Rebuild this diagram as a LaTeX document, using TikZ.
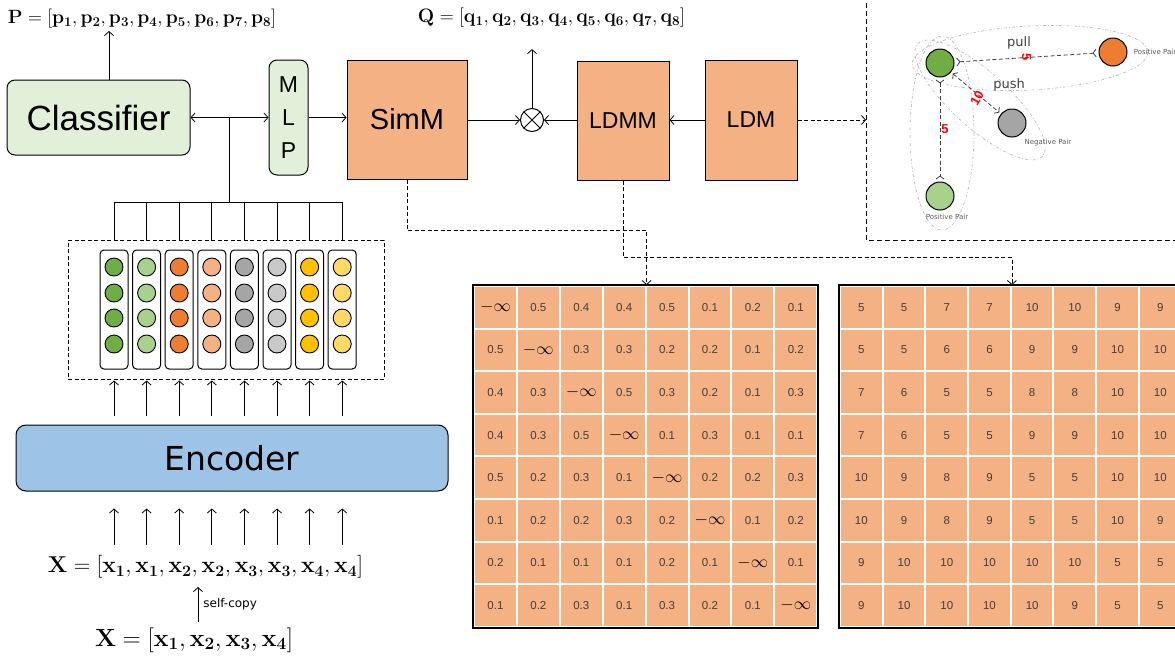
\documentclass[tikz,border=0pt]{standalone}
\usepackage[no-math]{fontspec}
\setmainfont{Liberation Sans}
\newfontfamily\encfont{DejaVu Sans}
\usetikzlibrary{arrows.meta,positioning}
\definecolor{boxgreen}{HTML}{E2F0D9}
\definecolor{boxorange}{HTML}{F4B183}
\definecolor{boxblue}{HTML}{9DC3E6}
\definecolor{dgreen}{HTML}{70AD47}
\definecolor{lgreen}{HTML}{A9D18E}
\definecolor{dorange}{HTML}{ED7D31}
\definecolor{dgray}{HTML}{A5A5A5}
\definecolor{lgray}{HTML}{C9C9C9}
\definecolor{dyellow}{HTML}{FFC000}
\definecolor{lyellow}{HTML}{FFD966}
\definecolor{celltext}{HTML}{404040}
\newcommand{\fsz}[1]{\fontsize{#1}{#1}\selectfont}
\newcommand{\minusinf}{{\color{black}\fsz{17}$-\infty$}}

\begin{document}
\begin{tikzpicture}[x=1pt, y=-1pt, line width=0.8pt, >={Straight Barb[length=4pt,width=9pt]}]
	\tikzstyle{greenStyle}=[draw, rounded corners=8pt, fill=boxgreen, line width=1pt]
	\tikzstyle{orangeStyle}=[draw, fill=boxorange, line width=1pt]
	\tikzstyle{blueStyle}=[draw, rounded corners=10pt, fill=boxblue, line width=1pt]
	\tikzstyle{colStyle}=[draw, rounded corners=4pt, minimum width=28, minimum height=119, line width=1pt]
	\tikzstyle{dotStyle}=[draw, circle, minimum size=18, inner sep=0pt, line width=0.9pt]
	\tikzstyle{cellStyle}=[draw=white, line width=2pt, fill=boxorange, minimum width=42.9, minimum height=42.6, inner sep=0pt, text=celltext, font=\fsz{11.5}]
	\tikzstyle{dashArrow}=[dashed, dash pattern=on 4pt off 2.5pt, ->]
	\tikzstyle{pairStyle}=[draw, circle, minimum size=28, inner sep=0pt, line width=1pt]
	\tikzstyle{pairArrow}=[dashed, dash pattern=on 4pt off 2.5pt, line width=0.8pt, draw=black!75, >={Straight Barb[length=3pt,width=8pt]}, shorten <=2pt, shorten >=2pt]
	\tikzstyle{groupStyle}=[draw=black!30, dash dot, line width=0.6pt]
	\tikzstyle{redNum}=[text=red, font=\bfseries\fsz{13}, inner sep=0pt]
	\tikzstyle{pairText}=[text=black!65, font=\encfont\fsz{7}, inner sep=1pt]
	\tikzstyle{mathStyle}=[font=\fsz{20.74}, inner sep=2pt]
	\useasboundingbox (0,0) rectangle (1175,662);
	\clip (0,0) rectangle (1175,662);

	% top row of blocks
	\node[greenStyle, minimum width=183, minimum height=75, font=\fsz{35}] (cls) at (98.5,117.5) {Classifier};
	\node[greenStyle, minimum width=39, minimum height=115, inner sep=0pt, align=center, font=\fontsize{23}{33}\selectfont] (mlp) at (288.5,117.5) {M\\L\\P};
	\node[orangeStyle, minimum width=120, minimum height=119, font=\fsz{29}] (simm) at (407,119.5) {SimM};
	\node[draw, circle, minimum size=23, inner sep=0pt, line width=1pt] (mul) at (532,120) {};
	\draw[line width=1pt] (mul.north west) -- (mul.south east) (mul.north east) -- (mul.south west);
	\node[orangeStyle, minimum width=92, minimum height=119, font=\fsz{23}] (ldmm) at (623,120.5) {LDMM};
	\node[orangeStyle, minimum width=92, minimum height=120, font=\fsz{23}] (ldm) at (751,120) {LDM};
	\node[mathStyle] (plabel) at (142,19) {\resizebox{268pt}{!}{$\mathbf{P}=[\mathbf{p_1},\mathbf{p_2},\mathbf{p_3},\mathbf{p_4},\mathbf{p_5},\mathbf{p_6},\mathbf{p_7},\mathbf{p_8}]$}};
	\node[mathStyle] (qlabel) at (551.5,18) {\resizebox{267pt}{!}{$\mathbf{Q}=[\mathbf{q_1},\mathbf{q_2},\mathbf{q_3},\mathbf{q_4},\mathbf{q_5},\mathbf{q_6},\mathbf{q_7},\mathbf{q_8}]$}};

	\draw[->] (cls.north -| 109,0) -- (plabel.south -| 109,0);
	\coordinate (jn) at (229,117.5);
	\coordinate (bus) at (229,202);
	\draw[<->] (cls.east) -- (mlp.west);
	\draw (jn) -- (bus);
	\draw[->] (mlp.east) -- (mlp.east -| simm.west);
	\draw[->] (simm.east |- mul) -- (mul.west);
	\draw[->] (ldmm.west |- mul) -- (mul.east);
	\draw[->] (ldm.west) -- (ldm.west -| ldmm.east);
	\draw[->] (mul.north) -- ([yshift=-19pt]mul.north |- qlabel.south);

	% token features
	\node[draw, dashed, dash pattern=on 4pt off 2.5pt, minimum width=316, minimum height=139, line width=1pt] (feat) at (226,309.5) {};
	\node[blueStyle, minimum width=432, minimum height=66, font=\encfont\fsz{33}] (enc) at (232,458) {Encoder};
	\foreach \cl [count=\i] in {dgreen,lgreen,dorange,boxorange,dgray,lgray,dyellow,lyellow} {
		\node[colStyle] (c\i) at ({81.4+32.6*\i},309.5) {};
		\foreach \j/\yy in {1/267,2/293,3/318,4/344}
			\node[dotStyle, fill=\cl] (c\i-\j) at ({81.4+32.6*\i},\yy) {};
		\draw (c\i |- bus) -- (c\i |- feat.north);
		\draw[->] ([yshift=9pt]enc.north -| c\i) -- ([yshift=-1pt]feat.south -| c\i);
		\draw[->] ([yshift=-53pt]enc.south -| c\i) -- ([yshift=-17pt]enc.south -| c\i);
	}
	\draw (c1 |- bus) -- (c8 |- bus);

	\node[mathStyle] (xtop) at (205.5,567) {\resizebox{315pt}{!}{$\mathbf{X}=[\mathbf{x_1},\mathbf{x_1},\mathbf{x_2},\mathbf{x_2},\mathbf{x_3},\mathbf{x_3},\mathbf{x_4},\mathbf{x_4}]$}};
	\node[mathStyle] (xbot) at (194,640) {\resizebox{198pt}{!}{$\mathbf{X}=[\mathbf{x_1},\mathbf{x_2},\mathbf{x_3},\mathbf{x_4}]$}};
	\draw[->] (198,622) -- (198,587) node[midway, right, font=\encfont\fsz{12}, inner sep=5pt] (copy) {self-copy};

	% matrices
	\foreach \row [count=\r] in {
		{\minusinf,0.5,0.4,0.4,0.5,0.1,0.2,0.1},
		{0.5,\minusinf,0.3,0.3,0.2,0.2,0.1,0.2},
		{0.4,0.3,\minusinf,0.5,0.3,0.2,0.1,0.3},
		{0.4,0.3,0.5,\minusinf,0.1,0.3,0.1,0.1},
		{0.5,0.2,0.3,0.1,\minusinf,0.2,0.2,0.3},
		{0.1,0.2,0.2,0.3,0.2,\minusinf,0.1,0.2},
		{0.2,0.1,0.1,0.1,0.2,0.1,\minusinf,0.1},
		{0.1,0.2,0.3,0.1,0.3,0.2,0.1,\minusinf}} {
		\foreach \v [count=\c] in \row
			\node[cellStyle] (a-\r-\c) at ({474+42.9*(\c-0.5)},{286+42.6*(\r-0.5)}) {\v};
	}
	\foreach \row [count=\r] in {
		{5,5,7,7,10,10,9,9},
		{5,5,6,6,9,9,10,10},
		{7,6,5,5,8,8,10,10},
		{7,6,5,5,9,9,10,10},
		{10,9,8,9,5,5,10,10},
		{10,9,8,9,5,5,10,9},
		{9,10,10,10,10,10,5,5},
		{9,10,10,10,10,9,5,5}} {
		\foreach \v [count=\c] in \row
			\node[cellStyle] (b-\r-\c) at ({840+42.7*(\c-0.5)},{286+42.6*(\r-0.5)}) {\v};
	}
	\draw[line width=2pt] (a-1-1.north west) rectangle (a-8-8.south east);
	\draw[line width=2pt] (b-1-1.north west) rectangle (b-8-8.south east);

	\draw[dashArrow] (simm.south) -- ++(0,51) -| (a-1-4.north east);
	\draw[dashArrow] (ldmm.south) -- ++(0,77) -| (b-1-4.north east);

	% pull / push panel
	\draw[dashed, dash pattern=on 5pt off 3pt, line width=1pt] (866,-5) -- (866,240) -- (1180,240);
	\coordinate (pnl) at (866,120);
	\draw[dashArrow] (ldm.east) -- (pnl);
	\draw[groupStyle, rotate around={3:(1030,58)}] (1030,58) ellipse [x radius=118, y radius=32];
	\draw[groupStyle, rotate around={-42:(980,100)}] (980,100) ellipse [x radius=84, y radius=28];
	\draw[groupStyle] (942,133) ellipse [x radius=32, y radius=97];
	\node[pairStyle, fill=dgreen] (anc) at (940,63) {};
	\node[pairStyle, fill=dorange] (pos1) at (1113,52) {};
	\node[pairStyle, fill=dgray] (neg) at (1012,123) {};
	\node[pairStyle, fill=lgreen] (pos2) at (940,196) {};
	\draw[pairArrow, >-<] (anc) -- (pos1) node[pos=0.5, redNum, rotate=-90] {5};
	\draw[pairArrow, <->] (anc) -- (neg);
	\draw[pairArrow, >-<] (anc) -- (pos2) node[pos=0.5, redNum, xshift=5pt] {5};
	\node[redNum, rotate=60] (ten) at (977,98) {10};
	\node[text=black!75, font=\encfont\fsz{13}] (pull) at (1019,43) {pull};
	\node[text=black!75, font=\encfont\fsz{13}] (push) at (1009,85) {push};
	\node[pairText, right=5pt of pos1] (pos1txt) {Positive Pair};
	\node[pairText] (negtxt) at (1048,143) {Negative Pair};
	\node[pairText] (pos2txt) at (947,217) {Positive Pair};
\end{tikzpicture}
\end{document}
